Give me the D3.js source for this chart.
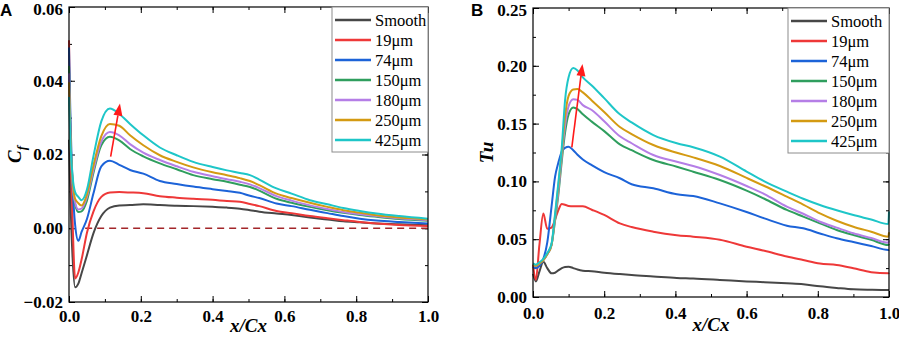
<!DOCTYPE html>
<html>
<head>
<meta charset="utf-8">
<script src="https://cdn.jsdelivr.net/npm/d3@7"></script>
<style>
  body { margin: 0; background: #fff; }
  svg { display: block; }
  .tick line { stroke: #000; stroke-width: 1; }
  .domain { display: none; }
</style>
</head>
<body>
<div id="chart"></div>
<script>
// legend names and colours
const seriesNames = ["Smooth", "19μm", "74μm", "150μm", "180μm", "250μm", "425μm"];
const seriesColors = ["#474747", "#ee3838", "#1c63d8", "#2f9e5e", "#b57ee6", "#d49a12", "#1ec6c8"];

// panel A: skin friction coefficient Cf vs x/Cx
const xA = [0, 0.004, 0.01, 0.017, 0.026, 0.035, 0.05, 0.068, 0.09, 0.114, 0.14, 0.17, 0.207, 0.253, 0.3,
            0.346, 0.4, 0.44, 0.476, 0.504, 0.53, 0.578, 0.62, 0.671, 0.72, 0.764, 0.81, 0.857, 0.92, 1.0];
const cfSmooth = [0.024, 0.008, -0.008, -0.016, -0.015, -0.0122, -0.0073, -0.0014, 0.0033, 0.0056, 0.0062, 0.0063, 0.0065, 0.0063, 0.0061,
                  0.006, 0.0058, 0.0056, 0.0053, 0.0049, 0.0045, 0.004, 0.0036, 0.0029, 0.0024, 0.0019, 0.0016, 0.0013, 0.0011, 0.0008];
const cf19 = [0.051, 0.025, 0.002, -0.0136, -0.012, -0.0085, -0.0012, 0.0045, 0.0085, 0.0097, 0.0098, 0.0097, 0.0095, 0.0087, 0.0083,
              0.008, 0.0077, 0.0074, 0.0072, 0.0066, 0.006, 0.0047, 0.0041, 0.0033, 0.0027, 0.0022, 0.0017, 0.0013, 0.0009, 0.0006];
const cf74 = [0.049, 0.03, 0.012, 0.001, -0.0034, -0.001, 0.0025, 0.0094, 0.0168, 0.0183, 0.0172, 0.0158, 0.0148, 0.0128, 0.012,
              0.0113, 0.0106, 0.0101, 0.0096, 0.0088, 0.0082, 0.0067, 0.006, 0.005, 0.0041, 0.0033, 0.0026, 0.0021, 0.0017, 0.0013];
const cf150 = [0.044, 0.026, 0.012, 0.0065, 0.0044, 0.0046, 0.0075, 0.015, 0.0225, 0.0248, 0.0238, 0.0215, 0.0195, 0.0176, 0.016,
               0.0144, 0.0133, 0.0126, 0.0118, 0.0112, 0.0102, 0.008, 0.0069, 0.0058, 0.0049, 0.0042, 0.0036, 0.0031, 0.0025, 0.002];
const cf180 = [0.042, 0.025, 0.012, 0.007, 0.0051, 0.0053, 0.0085, 0.0158, 0.0235, 0.0261, 0.0252, 0.0228, 0.0205, 0.0185, 0.0168,
               0.0153, 0.0141, 0.0133, 0.0126, 0.0119, 0.0109, 0.0087, 0.0075, 0.0062, 0.0052, 0.0044, 0.0038, 0.0033, 0.0027, 0.0022];
const cf250 = [0.0396, 0.024, 0.013, 0.008, 0.0068, 0.0062, 0.0092, 0.017, 0.025, 0.0283, 0.0278, 0.0252, 0.0225, 0.0198, 0.018,
               0.0165, 0.0152, 0.0144, 0.0136, 0.0128, 0.0117, 0.0094, 0.0082, 0.0069, 0.0058, 0.0049, 0.0042, 0.0035, 0.0029, 0.0024];
const cf425 = [0.0356, 0.023, 0.014, 0.0098, 0.0085, 0.0076, 0.0105, 0.0195, 0.029, 0.0325, 0.031, 0.0283, 0.0252, 0.0219, 0.0198,
               0.018, 0.0166, 0.0157, 0.015, 0.0144, 0.0132, 0.0108, 0.0094, 0.0076, 0.0065, 0.0055, 0.0047, 0.004, 0.0033, 0.0026];
const cfTicks = [-0.02, 0, 0.02, 0.04, 0.06];
const cfArrow = [[0.116, 0.0194], [0.142, 0.0338]];

// panel B: turbulence intensity Tu vs x/Cx
const xB = [0, 0.008, 0.018, 0.029, 0.04, 0.052, 0.062, 0.071, 0.081, 0.09, 0.1, 0.113, 0.125, 0.14, 0.165, 0.2,
            0.244, 0.277, 0.338, 0.404, 0.45, 0.525, 0.6, 0.65, 0.713, 0.759, 0.806, 0.853, 0.9, 0.95, 0.998, 1.0];
const tuSmooth = [0.02, 0.0135, 0.022, 0.0305, 0.025, 0.0205, 0.021, 0.023, 0.025, 0.026, 0.0262, 0.025, 0.0238, 0.0228, 0.0222, 0.021,
                  0.0198, 0.019, 0.0178, 0.0165, 0.016, 0.0148, 0.0135, 0.0128, 0.0118, 0.011, 0.0092, 0.0078, 0.0066, 0.0062, 0.006, 0.006];
const tu19 = [0.028, 0.015, 0.045, 0.0722, 0.059, 0.06, 0.067, 0.075, 0.0805, 0.0798, 0.0788, 0.0785, 0.0785, 0.0785, 0.0755, 0.071,
              0.0637, 0.0605, 0.0565, 0.0535, 0.0522, 0.0495, 0.0435, 0.04, 0.035, 0.032, 0.029, 0.0277, 0.0248, 0.0215, 0.0205, 0.021];
const tu74 = [0.026, 0.025, 0.027, 0.033, 0.047, 0.078, 0.104, 0.116, 0.126, 0.129, 0.13, 0.127, 0.123, 0.119, 0.114, 0.108,
              0.1027, 0.0975, 0.094, 0.0888, 0.0874, 0.081, 0.0735, 0.068, 0.0617, 0.0594, 0.055, 0.0508, 0.0475, 0.0441, 0.0407, 0.041];
const tu150 = [0.028, 0.027, 0.029, 0.032, 0.037, 0.045, 0.066, 0.088, 0.118, 0.142, 0.158, 0.164, 0.1625, 0.158, 0.1517, 0.1435,
               0.132, 0.127, 0.1185, 0.1127, 0.1084, 0.1012, 0.092, 0.085, 0.0753, 0.0695, 0.0637, 0.058, 0.0536, 0.0495, 0.045, 0.046];
const tu180 = [0.028, 0.027, 0.029, 0.032, 0.037, 0.045, 0.068, 0.091, 0.122, 0.148, 0.165, 0.171, 0.1705, 0.166, 0.1618, 0.152,
               0.139, 0.133, 0.1228, 0.117, 0.1133, 0.1055, 0.096, 0.089, 0.0781, 0.072, 0.0651, 0.06, 0.0551, 0.051, 0.047, 0.049];
const tu250 = [0.028, 0.027, 0.029, 0.032, 0.037, 0.045, 0.07, 0.095, 0.126, 0.156, 0.174, 0.1795, 0.18, 0.177, 0.17, 0.16,
               0.147, 0.141, 0.1315, 0.1248, 0.1208, 0.1133, 0.103, 0.096, 0.0868, 0.08, 0.0724, 0.066, 0.0608, 0.0565, 0.0522, 0.056];
const tu425 = [0.029, 0.028, 0.03, 0.033, 0.038, 0.046, 0.072, 0.098, 0.13, 0.17, 0.19, 0.198, 0.196, 0.19, 0.183, 0.172,
               0.158, 0.151, 0.1401, 0.133, 0.1295, 0.1214, 0.1085, 0.1, 0.0911, 0.085, 0.0796, 0.075, 0.0709, 0.067, 0.0631, 0.074];
const tuTicks = [0, 0.05, 0.1, 0.15, 0.2, 0.25];
const tuArrow = [[0.109, 0.1295], [0.139, 0.2016]];

const xTicks = [0, 0.2, 0.4, 0.6, 0.8, 1.0];

const SERIF = "'Liberation Serif', 'Times New Roman', serif";

const width = 899, height = 337;
const svg = d3.select("#chart").append("svg")
    .attr("width", width)
    .attr("height", height);

// make tick labels Times-like bold
function styleLabels(sel) {
    sel.attr("font-family", SERIF).attr("font-size", 17);
    sel.selectAll("text")
        .attr("font-family", SERIF)
        .attr("font-weight", "bold")
        .attr("font-size", 17)
        .attr("fill", "#000");
}

function drawPanel(opt) {
    const { left, right, top, bottom } = opt.box;
    const g = svg.append("g");

    const xScale = d3.scaleLinear().domain([0, 1]).range([left, right]);
    const yScale = d3.scaleLinear().domain(opt.yDomain).range([bottom, top]);

    const xMinor = d3.range(0, 1.0001, 0.1);
    const yMinor = d3.range(opt.yDomain[0], opt.yDomain[1] + 1e-9, opt.yStep / 2);

    // minor ticks on all four sides (inward)
    g.append("g").attr("transform", `translate(0,${bottom})`)
        .call(d3.axisBottom(xScale).tickValues(xMinor).tickFormat("").tickSizeInner(-3).tickSizeOuter(0));
    g.append("g").attr("transform", `translate(0,${top})`)
        .call(d3.axisTop(xScale).tickValues(xMinor).tickFormat("").tickSizeInner(-3).tickSizeOuter(0));
    g.append("g").attr("transform", `translate(${left},0)`)
        .call(d3.axisLeft(yScale).tickValues(yMinor).tickFormat("").tickSizeInner(-3).tickSizeOuter(0));
    g.append("g").attr("transform", `translate(${right},0)`)
        .call(d3.axisRight(yScale).tickValues(yMinor).tickFormat("").tickSizeInner(-3).tickSizeOuter(0));

    // major ticks + labels
    g.append("g").attr("transform", `translate(0,${bottom})`)
        .call(d3.axisBottom(xScale).tickValues(xTicks).tickFormat(d3.format(".1f"))
            .tickSizeInner(-6).tickSizeOuter(0).tickPadding(opt.xPad))
        .call(styleLabels);
    g.append("g").attr("transform", `translate(0,${top})`)
        .call(d3.axisTop(xScale).tickValues(xTicks).tickFormat("").tickSizeInner(-6).tickSizeOuter(0));
    const yAx = g.append("g").attr("transform", `translate(${left},0)`)
        .call(d3.axisLeft(yScale).tickValues(opt.yTicks).tickFormat(d3.format(".2f"))
            .tickSizeInner(-6).tickSizeOuter(0).tickPadding(6))
        .call(styleLabels);
    // keep the topmost label inside the picture
    yAx.selectAll(".tick text").filter(d => d === opt.yDomain[1]).attr("dy", "0.42em");
    g.append("g").attr("transform", `translate(${right},0)`)
        .call(d3.axisRight(yScale).tickValues(opt.yTicks).tickFormat("").tickSizeInner(-6).tickSizeOuter(0));

    // zero reference line
    if (opt.zeroLine) {
        g.append("line")
            .attr("x1", xScale(0.045)).attr("x2", xScale(1))
            .attr("y1", yScale(0)).attr("y2", yScale(0))
            .attr("stroke", "#a3262a")
            .attr("stroke-width", 1.4)
            .attr("stroke-dasharray", "7,5");
    }

    const lineGen = d3.line()
        .x(d => xScale(d[0]))
        .y(d => yScale(d[1]))
        .curve(d3.curveMonotoneX);

    opt.series.forEach((vals, i) => {
        const pts = opt.xs.map((x, k) => [x, vals[k]]);
        g.append("path")
            .attr("d", lineGen(pts))
            .attr("fill", "none")
            .attr("stroke", seriesColors[i])
            .attr("stroke-width", 2)
            .attr("stroke-linejoin", "round");
    });

    // red arrow
    const [a0, a1] = opt.arrow;
    const x0 = xScale(a0[0]), y0 = yScale(a0[1]);
    const x1 = xScale(a1[0]), y1 = yScale(a1[1]);
    const ang = Math.atan2(y1 - y0, x1 - x0);
    const headLen = 12, headW = 4.5;
    const bx = x1 - headLen * Math.cos(ang), by = y1 - headLen * Math.sin(ang);
    g.append("line")
        .attr("x1", x0).attr("y1", y0).attr("x2", bx).attr("y2", by)
        .attr("stroke", "#ff1a1a").attr("stroke-width", 1.6);
    g.append("path")
        .attr("d", `M${x1},${y1}L${bx - headW * Math.sin(ang)},${by + headW * Math.cos(ang)}L${bx + headW * Math.sin(ang)},${by - headW * Math.cos(ang)}Z`)
        .attr("fill", "#ff1a1a");

    // frame
    g.append("rect")
        .attr("x", left).attr("y", top)
        .attr("width", right - left).attr("height", bottom - top)
        .attr("fill", "none").attr("stroke", "#000").attr("stroke-width", 1.2);

    // legend
    const lg = g.append("g").attr("transform", `translate(${right - opt.legendW},${top})`);
    lg.append("rect")
        .attr("width", opt.legendW).attr("height", 145)
        .attr("fill", "#fff").attr("stroke", "#8c8c8c").attr("stroke-width", 1);
    const items = lg.selectAll("g.item").data(seriesNames).enter()
        .append("g")
        .attr("class", "item")
        .attr("transform", (d, i) => `translate(0,${13 + i * 20})`);
    items.append("line")
        .attr("x1", 3).attr("x2", 39)
        .attr("stroke", (d, i) => seriesColors[i])
        .attr("stroke-width", 2.5);
    items.append("text")
        .attr("x", 43).attr("dy", "0.35em")
        .attr("font-family", SERIF)
        .attr("font-size", 16.5)
        .attr("fill", "#000")
        .text(d => d);

    // x title
    g.append("text")
        .attr("x", (left + right) / 2).attr("y", opt.xTitleY)
        .attr("text-anchor", "middle")
        .attr("font-family", SERIF)
        .attr("font-weight", "bold").attr("font-style", "italic")
        .attr("font-size", 19)
        .text("x/Cx");

    // y title
    const yt = g.append("text")
        .attr("transform", `translate(${opt.yTitleX},${(top + bottom) / 2}) rotate(-90)`)
        .attr("text-anchor", "middle")
        .attr("font-family", SERIF)
        .attr("font-weight", "bold").attr("font-style", "italic")
        .attr("font-size", 19);
    if (opt.ySub) {
        yt.append("tspan").text(opt.yTitle);
        yt.append("tspan").attr("dy", 5).attr("font-size", 13).text(opt.ySub);
    } else {
        yt.text(opt.yTitle);
    }

    // panel letter
    g.append("text")
        .attr("x", opt.letterX).attr("y", 16)
        .attr("font-family", "'Liberation Sans', Arial, sans-serif")
        .attr("font-weight", "bold").attr("font-size", 17)
        .text(opt.letter);
}

drawPanel({
    box: { left: 69, right: 428, top: 7, bottom: 302 },
    yDomain: [-0.02, 0.06], yStep: 0.02, yTicks: cfTicks,
    xs: xA, series: [cfSmooth, cf19, cf74, cf150, cf180, cf250, cf425],
    arrow: cfArrow, zeroLine: true,
    legendW: 96, xPad: 8, xTitleY: 332,
    yTitle: "C", ySub: "f", yTitleX: 21,
    letter: "A", letterX: 0
});

drawPanel({
    box: { left: 533, right: 889, top: 8, bottom: 297 },
    yDomain: [0, 0.25], yStep: 0.05, yTicks: tuTicks,
    xs: xB, series: [tuSmooth, tu19, tu74, tu150, tu180, tu250, tu425],
    arrow: tuArrow, zeroLine: false,
    legendW: 101, xPad: 10, xTitleY: 331,
    yTitle: "Tu", ySub: null, yTitleX: 493,
    letter: "B", letterX: 471
});
</script>
</body>
</html>
